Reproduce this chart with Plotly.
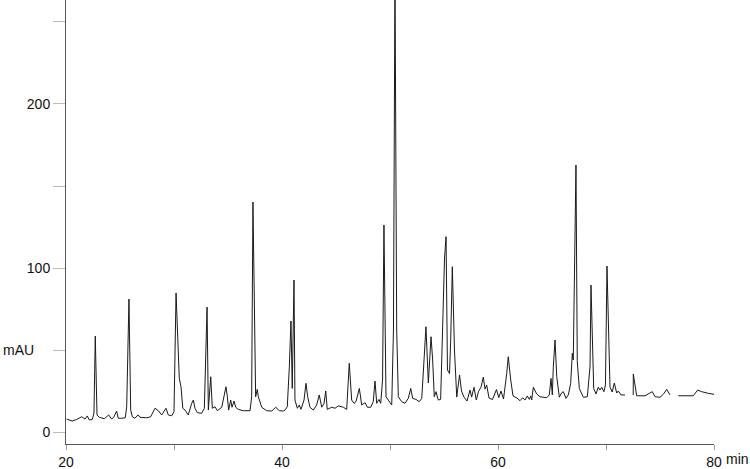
import plotly.graph_objects as go

# Retention time (min) and absorbance (mAU); None = gap in trace
time_min = [
    20.06, 20.58, 20.99, 21.45, 21.76, 21.97, 22.16, 22.44, 22.59, 22.71, 22.87, 23.08,
    23.55, 23.95, 24.23, 24.44, 24.69, 24.84, 25.16, 25.49, 25.62, 25.83, 25.99, 26.14,
    26.39, 26.67, 26.85, 27.47, 27.84, 28.24, 28.55, 28.86, 29.26, 29.47, 29.79, 30.00,
    30.19, 30.49, 30.65, 30.81, 31.02, 31.32, 31.64, 31.79, 31.94, 32.16, 32.56, 32.81,
    33.06, 33.18, 33.40, 33.55, 33.80, 34.01, 34.42, 34.66, 34.81, 34.94, 35.06, 35.25,
    35.37, 35.56, 35.71, 35.95, 36.42, 37.04, 37.19, 37.31, 37.56, 37.71, 37.81, 38.12,
    38.58, 39.05, 39.42, 39.75, 40.12, 40.28, 40.49, 40.68, 40.83, 40.95, 41.11, 41.20,
    41.42, 41.60, 41.76, 42.04, 42.22, 42.38, 42.59, 42.90, 43.21, 43.45, 43.68, 43.89,
    44.05, 44.19, 44.60, 44.91, 45.21, 45.68, 45.99, 46.23, 46.45, 46.67, 46.85, 47.16,
    47.38, 47.69, 47.90, 48.21, 48.45, 48.61, 48.77, 48.98, 49.14, 49.31, 49.44, 49.63,
    49.84, 50.16, 50.32, 50.46, 50.62, 50.77, 51.08, 51.39, 51.69, 51.92, 52.10, 52.41,
    52.71, 52.94, 53.15, 53.33, 53.55, 53.80, 53.95, 54.10, 54.26, 54.47, 54.69, 54.84,
    55.05, 55.19, 55.32, 55.51, 55.62, 55.77, 55.97, 56.18, 56.44, 56.62, 56.85, 57.13,
    57.41, 57.56, 57.78, 57.99, 58.19, 58.43, 58.64, 58.80, 58.95, 59.17, 59.49, 59.86,
    60.07, 60.28, 60.51, 60.81, 60.95, 61.18, 61.39, 61.76, 62.04, 62.29, 62.50, 62.71,
    62.90, 63.03, 63.12, 63.27, 63.58, 63.89, 64.51, 64.75, 64.91, 65.03, 65.12, 65.28,
    65.44, 65.68, 65.90, 66.05, 66.30, 66.51, 66.73, 66.88, 66.97, 67.22, 67.34, 67.53,
    67.90, 68.27, 68.52, 68.61, 68.86, 69.07, 69.29, 69.44, 69.60, 69.81, 69.95, 70.09,
    70.37, 70.58, 70.77, 70.99, 71.14, 71.39, 71.76, None,
    72.52, 72.53, 72.84, 73.61, 74.29, 74.54, 75.00, 75.31, 75.62, 75.93, None,
    76.69, 78.08, 78.49, 78.86, 79.47, 80.00,
]
absorbance_mau = [
    7.9, 6.7, 7.7, 9.3, 7.9, 9.8, 7.3, 7.7, 11.6, 58.5, 10.4, 9.0,
    8.1, 10.4, 7.9, 9.3, 12.8, 8.4, 8.4, 8.7, 15.4, 81.1, 13.4, 9.3,
    8.4, 10.4, 9.0, 8.7, 9.3, 14.5, 13.0, 10.4, 14.5, 10.4, 9.9, 12.4,
    84.8, 32.7, 27.6, 14.5, 13.4, 10.4, 17.5, 19.5, 14.5, 11.8, 11.4, 14.5,
    76.2, 13.4, 33.7, 14.5, 15.4, 13.0, 15.1, 22.6, 27.6, 21.5, 13.4, 19.5,
    15.1, 18.9, 15.1, 13.8, 13.0, 13.0, 21.5, 140.2, 21.5, 26.0, 21.5, 15.1,
    13.0, 12.8, 15.1, 13.0, 12.8, 13.4, 15.4, 39.8, 67.7, 26.6, 92.7, 19.5,
    14.5, 16.5, 13.8, 19.5, 29.7, 21.5, 15.1, 13.4, 16.5, 22.6, 15.1, 17.5,
    25.0, 13.8, 15.1, 14.5, 15.9, 15.1, 13.8, 41.9, 19.5, 17.5, 18.5, 26.6,
    16.5, 17.9, 15.1, 15.1, 18.5, 31.1, 17.5, 19.9, 17.5, 31.7, 126.2, 21.5,
    19.5, 16.5, 62.2, 280.0, 62.2, 21.5, 18.5, 17.5, 20.5, 26.6, 20.5, 19.9,
    18.5, 20.5, 43.9, 64.2, 29.9, 58.1, 43.9, 21.5, 24.6, 19.5, 19.9, 60.2,
    106.1, 119.1, 37.8, 35.7, 56.1, 100.8, 50.0, 21.3, 34.8, 25.0, 21.3, 18.9,
    25.6, 21.3, 27.3, 19.5, 24.6, 27.4, 33.5, 26.2, 28.7, 20.7, 19.8, 25.9,
    21.0, 25.0, 20.1, 35.8, 45.9, 31.7, 22.0, 20.7, 19.1, 20.9, 19.5, 22.0,
    19.9, 22.0, 19.5, 27.3, 23.2, 21.5, 20.9, 22.6, 32.7, 22.6, 39.8, 56.1,
    33.7, 21.2, 24.0, 24.6, 20.5, 22.6, 29.7, 48.0, 43.9, 162.8, 42.9, 26.6,
    21.2, 21.5, 39.8, 89.6, 26.6, 23.2, 27.3, 25.6, 27.3, 24.6, 28.7, 101.2,
    27.4, 24.4, 29.9, 23.8, 25.0, 22.6, 22.6, None,
    22.6, 35.4, 22.1, 22.1, 24.6, 21.5, 21.2, 23.0, 26.0, 22.6, None,
    22.1, 22.1, 25.6, 24.6, 23.6, 23.0,
]

x_tick_vals = [20, 30, 40, 50, 60, 70, 80]
x_tick_text = ["20", "", "40", "", "60", "", "80"]
y_tick_vals = [0, 50, 100, 150, 200, 250]
y_tick_text = ["0", "", "100", "", "200", ""]

FONT = "Liberation Sans, Arial, sans-serif"

fig = go.Figure()
fig.add_trace(go.Scatter(
    x=time_min, y=absorbance_mau, mode="lines",
    line=dict(color="#1a1a1a", width=1),
    connectgaps=False, hoverinfo="skip", showlegend=False,
))

fig.update_layout(
    width=750, height=469,
    margin=dict(l=66, r=36, t=0, b=25, pad=0, autoexpand=False),
    paper_bgcolor="white", plot_bgcolor="white",
    font=dict(family=FONT, size=14, color="#111"),
    xaxis=dict(
        range=[20, 80], tickmode="array", tickvals=x_tick_vals, ticktext=x_tick_text,
        showgrid=False, zeroline=False, showline=True, linecolor="#555", linewidth=1,
        ticks="outside", ticklen=5, tickcolor="#999", tickwidth=1, automargin=False,
        tickfont=dict(family=FONT, size=14, color="#111"),
    ),
    yaxis=dict(
        range=[-7.3, 263.4], tickmode="array", tickvals=y_tick_vals, ticktext=y_tick_text,
        showgrid=False, zeroline=False, showline=True, linecolor="#555", linewidth=1,
        ticks="outside", ticklen=12, tickcolor="#bbb", tickwidth=1, automargin=False,
        tickfont=dict(family=FONT, size=14, color="#111"),
    ),
    annotations=[
        dict(text="mAU", xref="paper", yref="y", x=0, y=50, xanchor="right",
             xshift=-30, showarrow=False, font=dict(family=FONT, size=14, color="#111")),
        dict(text="min", xref="x", yref="paper", x=80, y=0, xanchor="left", yanchor="top",
             xshift=10, yshift=-5, showarrow=False, font=dict(family=FONT, size=14, color="#111")),
    ],
)

fig.write_html(
    "out.html",
    config={"displayModeBar": False},
    post_script="document.body.style.margin='0px';document.body.style.overflow='hidden';",
)
